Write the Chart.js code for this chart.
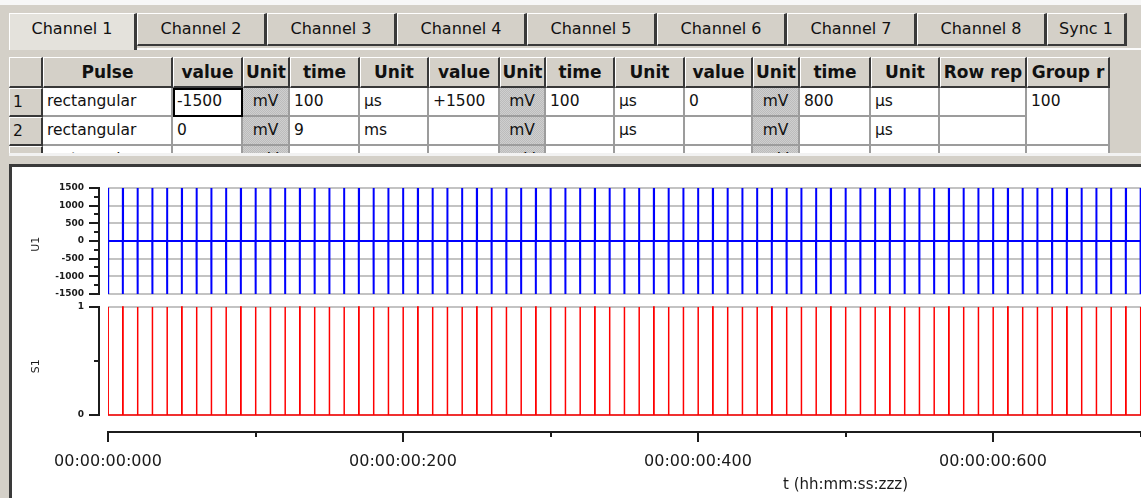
<!DOCTYPE html>
<html>
<head>
<meta charset="utf-8">
<script src="https://cdn.jsdelivr.net/npm/chart.js@4.4.1/dist/chart.umd.min.js"></script>
<style>
  body { margin:0; width:1141px; height:498px; overflow:hidden; position:relative;
         background:#d4d0c8; font-family:"DejaVu Sans", sans-serif; color:#111; }
  #topStrip { position:absolute; left:0; top:0; width:1141px; height:5px; background:#f7f7f7; }
  .tab { position:absolute; top:13px; height:33px; box-sizing:border-box; background:#d4d0c8;
         border-top:1px solid #fff; border-left:1px solid #fff; border-right:3px solid #3a3a3a;
         border-bottom:2px solid #3a3a3a; text-align:center; line-height:30px; font-size:16px; }
  .tab.sel { background:#e4e2dc; height:37px; border-bottom:none; }
  #pageLine { position:absolute; left:137px; top:48px; width:1004px; height:2px; background:#fbfbfb; }
  #grid { position:absolute; left:0; top:56px; width:1141px; height:97px; overflow:hidden; }
  .cell { position:absolute; box-sizing:border-box; white-space:nowrap; overflow:hidden;
          font-size:15.5px; padding-left:4px; background:#fff;
          border-right:2px solid #9c9c9c; border-bottom:2px solid #9c9c9c; }
  .hdr { background:#d4d0c8; font-weight:bold; font-size:17px; text-align:center; padding-left:0;
         border-top:1px solid #fff; border-left:1px solid #fff;
         border-right:2px solid #383838; border-bottom:2px solid #383838; }
  .rh { background:#d4d0c8; border-top:1px solid #fff; border-left:1px solid #fff;
        border-right:2px solid #383838; border-bottom:2px solid #383838; padding-left:3px; }
  .unit { background:repeating-conic-gradient(#bcbcbc 0 25%, #cfcfcf 0 50%) 0 0/2px 2px;
          text-align:center; padding-left:0; }
  .focus { outline:2px solid #000; outline-offset:-2px; }
  #gridFoot { position:absolute; left:9px; top:153px; width:1132px; height:3px; background:#f2f2f2; }
  #panel { position:absolute; left:9px; top:164px; width:1140px; height:340px; background:#fff;
           border-top:3px solid #3a3a3a; border-left:3px solid #3a3a3a; }
  #chartBox { position:absolute; left:0; top:164px; width:1600px; height:334px; }
</style>
</head>
<body>
<div id="topStrip"></div>
<div id="tabs"></div>
<div id="pageLine"></div>
<div id="grid"></div>
<div id="gridFoot"></div>
<div id="panel"></div>
<div id="chartBox"><canvas id="cSig" width="1600" height="334"></canvas></div>

<script>
/* ── DADOS DO SINAL ── */
// início de cada pulso (ms) - 100 repetições do grupo
const pulseStarts = [
    0,  10,  20,  30,  40,  50,  60,  70,  80,  90,
  100, 110, 120, 130, 140, 150, 160, 170, 180, 190,
  200, 210, 220, 230, 240, 250, 260, 270, 280, 290,
  300, 310, 320, 330, 340, 350, 360, 370, 380, 390,
  400, 410, 420, 430, 440, 450, 460, 470, 480, 490,
  500, 510, 520, 530, 540, 550, 560, 570, 580, 590,
  600, 610, 620, 630, 640, 650, 660, 670, 680, 690,
  700, 710, 720, 730, 740, 750, 760, 770, 780, 790,
  800, 810, 820, 830, 840, 850, 860, 870, 880, 890,
  900, 910, 920, 930, 940, 950, 960, 970, 980, 990
];
// fases do pulso (linha 1 da tabela): mV e duração em ms
const phaseLevels    = [-1500, 1500, 0];
const phaseDurations = [0.1, 0.1, 0.8];
const groupEnd = 1000;
// sync S1
const syncLevel = 1;
const syncWidth = 0.2;

/* ── EIXOS ── */
const xMajorTicks = [0, 200, 400, 600, 800];
const xMinorTicks = [100, 300, 500, 700, 900];
const uTicks      = [-1500, -1000, -500, 0, 500, 1000, 1500];
const uMinorTicks = [-1250, -750, -250, 250, 750, 1250];
const sTicks      = [0, 1];
const sMinorTicks = [0.5];

/* ── TABELA (UI) ── */
const tabNames = ["Channel 1","Channel 2","Channel 3","Channel 4","Channel 5","Channel 6","Channel 7","Channel 8","Sync 1"];
const tabEdges = [9, 137, 267, 397, 527, 657, 787, 917, 1047, 1127];
const colEdges = [9, 43, 173, 243, 290, 360, 429, 500, 546, 615, 685, 753, 800, 871, 940, 1027, 1110];
const headers  = ["", "Pulse", "value", "Unit", "time", "Unit", "value", "Unit", "time", "Unit", "value", "Unit", "time", "Unit", "Row rep", "Group r"];
const rows = [
  ["1","rectangular","-1500","mV","100","µs","+1500","mV","100","µs","0","mV","800","µs","","100"],
  ["2","rectangular","0","mV","9","ms","","mV","","µs","","mV","","µs","",null],
  ["3","rectangular","","mV","","","","mV","","","","mV","","","",""]
];
const rowTops = [1, 32, 61, 90];
const rowH = 29;

function montarTabs() {
  const box = document.getElementById("tabs");
  tabNames.forEach((n, i) => {
    const d = document.createElement("div");
    d.className = "tab" + (i === 0 ? " sel" : "");
    d.style.left = tabEdges[i] + "px";
    d.style.width = (tabEdges[i + 1] - tabEdges[i]) + "px";
    d.textContent = n;
    box.appendChild(d);
  });
}

function addCell(cls, col, top, h, txt) {
  const d = document.createElement("div");
  d.className = "cell " + cls;
  d.style.left = colEdges[col] + "px";
  d.style.width = (colEdges[col + 1] - colEdges[col]) + "px";
  d.style.top = top + "px";
  d.style.height = h + "px";
  d.style.lineHeight = (h - 3) + "px";
  d.textContent = txt;
  document.getElementById("grid").appendChild(d);
  return d;
}

function montarGrade() {
  headers.forEach((h, c) => addCell("hdr", c, rowTops[0], 31, h));
  rows.forEach((r, ri) => {
    r.forEach((v, c) => {
      if (v === null) return;
      let cls = "";
      if (c === 0) cls = "rh";
      else if (c === 3 || c === 7 || c === 11) cls = "unit";
      let h = rowH;
      if (c === 15 && ri === 0) h = rowH * 2;   // Group r mesclado
      const el = addCell(cls, c, rowTops[ri + 1], h, v);
      if (h > rowH) el.style.lineHeight = (rowH - 3) + "px";
      if (ri === 0 && c === 2) el.classList.add("focus");
    });
  });
}

montarTabs();
montarGrade();

/* ── MONTA AS FORMAS DE ONDA ── */
function montarU1() {
  const pts = [];
  pulseStarts.forEach(t0 => {
    let t = t0, nivel = 0;
    phaseLevels.forEach((lv, i) => {
      pts.push({ x: t, y: nivel });
      pts.push({ x: t, y: lv });
      nivel = lv;
      t += phaseDurations[i];
    });
    pts.push({ x: t, y: nivel });
  });
  pts.push({ x: groupEnd, y: 0 });
  return pts;
}

function montarS1() {
  const pts = [];
  pulseStarts.forEach(t0 => {
    pts.push({ x: t0, y: 0 }, { x: t0, y: syncLevel }, { x: t0 + syncWidth, y: syncLevel }, { x: t0 + syncWidth, y: 0 });
  });
  pts.push({ x: groupEnd, y: 0 });
  return pts;
}

function fmtTempo(ms) {
  const s = Math.floor(ms / 1000);
  const z = Math.round(ms % 1000);
  return "00:00:" + String(s).padStart(2, "0") + ":" + String(z).padStart(3, "0");
}

/* ── EIXOS DESENHADOS COM AFASTAMENTO ── */
const axisLines = {
  id: "axisLines",
  afterDraw(chart) {
    const { ctx, chartArea, scales } = chart;
    const spineX = chartArea.left - 9;
    ctx.save();
    ctx.strokeStyle = "#1c1c1c";
    ctx.lineWidth = 2;
    ctx.beginPath();
    [[scales.yU, uTicks, uMinorTicks], [scales.yS, sTicks, sMinorTicks]].forEach(([sc, major, minor]) => {
      ctx.moveTo(spineX, sc.getPixelForValue(major[major.length - 1]) - 1);
      ctx.lineTo(spineX, sc.getPixelForValue(major[0]) + 1);
      major.forEach(v => { const y = Math.round(sc.getPixelForValue(v)); ctx.moveTo(spineX, y); ctx.lineTo(spineX - 10, y); });
      minor.forEach(v => { const y = Math.round(sc.getPixelForValue(v)); ctx.moveTo(spineX, y); ctx.lineTo(spineX - 5, y); });
    });
    const xs = scales.x;
    const axY = Math.round(chartArea.bottom);
    ctx.moveTo(xs.getPixelForValue(0) - 1, axY);
    ctx.lineTo(chartArea.right, axY);
    xMajorTicks.forEach(v => { const x = Math.round(xs.getPixelForValue(v)); ctx.moveTo(x, axY); ctx.lineTo(x, axY + 10); });
    xMinorTicks.forEach(v => { const x = Math.round(xs.getPixelForValue(v)); ctx.moveTo(x, axY); ctx.lineTo(x, axY + 5); });
    ctx.stroke();
    ctx.restore();
  }
};

const fonteTick = { family: "DejaVu Sans", size: 9, weight: "bold" };
const corGrid = "rgba(175,175,175,0.75)";

new Chart(document.getElementById("cSig"), {
  type: "line",
  data: {
    datasets: [
      { label: "U1", data: montarU1(), yAxisID: "yU", borderColor: "#0000ff", borderWidth: 2, pointRadius: 0, tension: 0, fill: false },
      { label: "S1", data: montarS1(), yAxisID: "yS", borderColor: "#ff0000", borderWidth: 1.5, pointRadius: 0, tension: 0, fill: false }
    ]
  },
  options: {
    responsive: false,
    animation: false,
    events: [],
    layout: { padding: { top: 24, left: 0, right: 17, bottom: 0 } },
    plugins: { legend: { display: false }, tooltip: { enabled: false } },
    scales: {
      x: {
        type: "linear", position: "bottom", min: 0, max: groupEnd,
        afterBuildTicks: s => { s.ticks = xMajorTicks.map(v => ({ value: v })); },
        afterFit: s => { s.height = 66; },
        grid: { display: true, drawOnChartArea: false, color: "transparent", tickColor: "transparent", tickLength: 16 },
        border: { display: false },
        ticks: { padding: 4, color: "#1a1a1a", maxRotation: 0, autoSkip: false,
                 font: { family: "DejaVu Sans", size: 16 }, callback: v => fmtTempo(v) },
        title: { display: true, text: "t (hh:mm:ss:zzz)", color: "#1a1a1a",
                 font: { family: "DejaVu Sans", size: 15 }, padding: { top: 0, bottom: 4 } }
      },
      yS: {
        type: "linear", position: "left", stack: "sig", stackWeight: 131.5, min: -0.157, max: 1.06,
        afterBuildTicks: s => { s.ticks = sTicks.map(v => ({ value: v })); },
        afterFit: s => { s.width = 108; },
        grid: { color: corGrid, lineWidth: 2, tickColor: "transparent", tickLength: 20 },
        border: { display: false },
        ticks: { padding: 4, color: "#1a1a1a", font: fonteTick, autoSkip: false, callback: v => String(v) },
        title: { display: true, text: "S1", color: "#1a1a1a", font: { family: "DejaVu Sans", size: 11 }, padding: { top: 30, bottom: 0 } }
      },
      yU: {
        type: "linear", position: "left", stack: "sig", stackWeight: 112.5, min: -1684, max: 1500,
        afterBuildTicks: s => { s.ticks = uTicks.map(v => ({ value: v })); },
        afterFit: s => { s.width = 108; },
        grid: { color: corGrid, lineWidth: 2, tickColor: "transparent", tickLength: 20 },
        border: { display: false },
        ticks: { padding: 4, color: "#1a1a1a", font: fonteTick, autoSkip: false, callback: v => String(v) },
        title: { display: true, text: "U1", color: "#1a1a1a", font: { family: "DejaVu Sans", size: 11 }, padding: { top: 30, bottom: 0 } }
      }
    }
  },
  plugins: [axisLines]
});
</script>
</body>
</html>
